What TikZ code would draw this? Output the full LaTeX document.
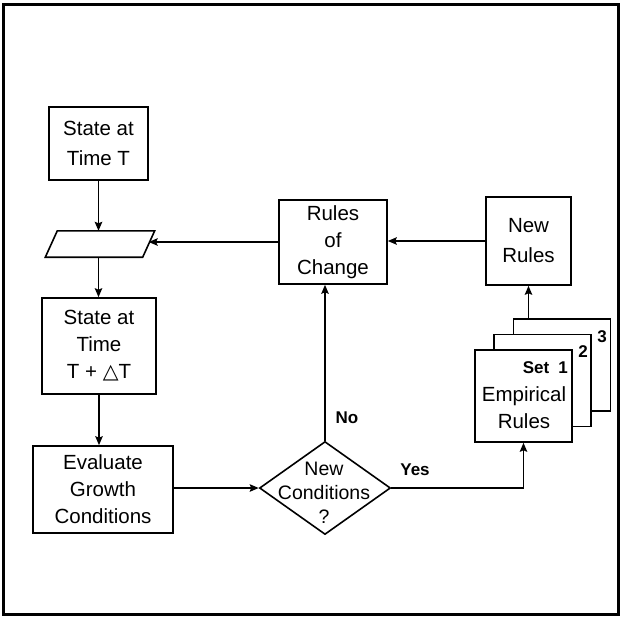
\documentclass[tikz,border=0pt]{standalone}
\usepackage{fontspec}
\setmainfont{Liberation Sans}
\newfontfamily\symfnt{DejaVu Sans}
\usetikzlibrary{shapes.geometric,arrows.meta}
\tikzset{
  box/.style={draw, line width=1.6pt, align=center, inner sep=0pt, fill=white,
    font=\fontsize{20.5}{27}\selectfont},
  lbl/.style={font=\bfseries\fontsize{17}{18}\selectfont, inner sep=0pt},
  conn/.style={line width=1.6pt, -{Stealth[length=9pt,width=7.5pt,inset=1.5pt]}}
}
\begin{document}
\begin{tikzpicture}[x=1pt,y=-1pt]
\useasboundingbox (0,0) rectangle (621,616);
\draw[line width=2.4pt] (3.5,4.5) rectangle (618.5,614.5);
% boxes
\node[box, minimum width=99.5pt, minimum height=73pt, font=\fontsize{20.5}{30}\selectfont] (st) at (98.5,143.5) {State at\\Time T};
\node[draw=none, minimum width=97pt, minimum height=26pt, inner sep=0pt] (para) at (100,244) {};
\draw[line width=1.6pt] ([xshift=6pt]para.north west) -- ([xshift=6pt]para.north east)
  -- ([xshift=-6pt]para.south east) -- ([xshift=-6pt]para.south west) -- cycle;
\node[box, minimum width=114pt, minimum height=96pt] (st2) at (99,346) {State at\\Time\\T + {\symfnt △}T};
\node[box, minimum width=140pt, minimum height=87pt] (ev) at (103,489.5) {Evaluate\\Growth\\Conditions};
\node[box, minimum width=108pt, minimum height=84pt] (rc) at (333,242) {Rules\\of\\Change};
\node[box, minimum width=85pt, minimum height=88pt, font=\fontsize{20.5}{30}\selectfont] (nr) at (528.5,241) {New\\Rules};
% stack
\node[box, minimum width=97pt, minimum height=92pt] (s3) at (562,365) {};
\node[box, minimum width=97pt, minimum height=92pt] (s2) at (542.5,380.5) {};
\node[box, minimum width=97pt, minimum height=92pt] (s1) at (523.5,396) {};
\node[align=center, inner sep=0pt, font=\fontsize{20.5}{27}\selectfont] (emp) at (524,408) {Empirical\\Rules};
\node[lbl, anchor=east] (set1) at (568,368) {Set\hspace{9pt}1};
\node[lbl] (n2) at (583,352) {2};
\node[lbl] (n3) at (602,337) {3};
% diamond
\node[diamond, draw, line width=1.6pt, minimum width=131pt, minimum height=93pt, inner sep=0pt] (dia) at (325,488) {};
\node[align=center, inner sep=0pt, font=\fontsize{19.5}{24}\selectfont] (dtxt) at (324,493) {New\\Conditions\\?};
% labels
\node[lbl] (no) at (347,418) {No};
\node[lbl] (yes) at (415,470) {Yes};
% connectors
\draw[conn] (st.south) -- (st.south |- para.north);
\draw[conn] (para.south -| st.south) -- (st.south |- st2.north);
\draw[conn] (st2.south) -- (ev.north -| st2.south);
\draw[conn] (ev.east |- dia.west) -- (dia.west);
\draw[conn] (dia.north) -- (rc.south -| dia.north);
\draw[conn] (rc.west) -- (rc.west -| para.east);
\draw[conn] (nr.west) -- (nr.west -| rc.east);
\draw[conn] (nr.south |- s3.north) -- (nr.south);
\draw[conn] (dia.east) -| (s1.south);
\end{tikzpicture}
\end{document}
